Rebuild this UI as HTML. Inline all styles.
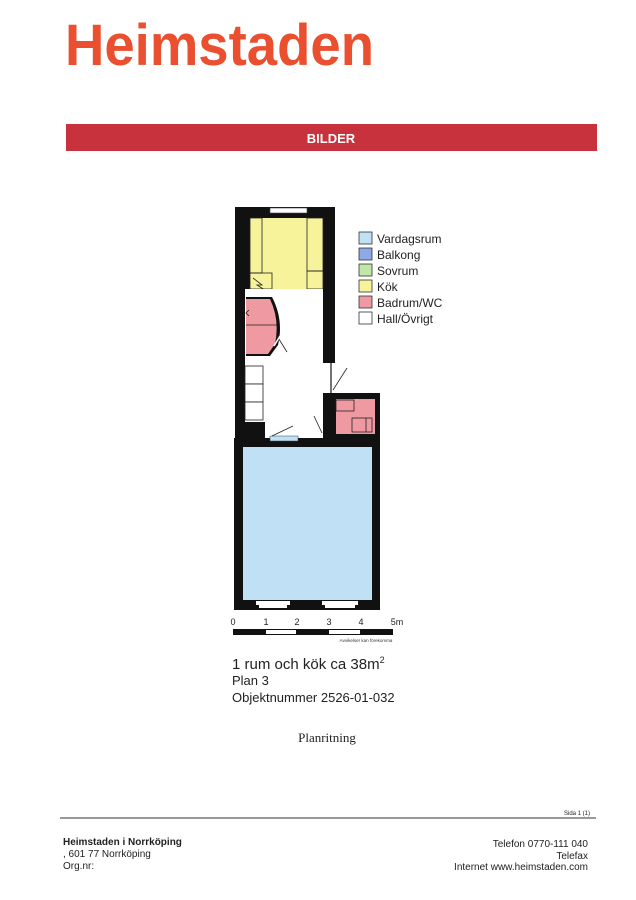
<!DOCTYPE html>
<html><head><meta charset="utf-8"><style>
html,body{margin:0;padding:0;background:#fff;}
svg{display:block;font-family:"Liberation Sans",sans-serif;}
</style></head><body>
<svg width="636" height="900" viewBox="0 0 636 900" xmlns="http://www.w3.org/2000/svg">
<rect width="636" height="900" fill="#fff"/>
<text x="65" y="65" font-size="58" font-weight="bold" fill="#ea4f30" textLength="309" lengthAdjust="spacingAndGlyphs">Heimstaden</text>
<rect x="66" y="124" width="531" height="27" fill="#c8323c"/>
<text x="331" y="143" font-size="13" font-weight="bold" fill="#fff" text-anchor="middle">BILDER</text>

<!-- floor plan walls -->
<rect x="235" y="207" width="100" height="231" fill="#111"/>
<rect x="323" y="393" width="57" height="45" fill="#111"/>
<rect x="234" y="438" width="146" height="172" fill="#111"/>
<!-- kitchen -->
<rect x="250" y="218" width="73" height="71" fill="#f7f39a"/>
<rect x="250" y="218" width="12" height="55" fill="none" stroke="#222" stroke-width="0.8"/>
<rect x="307" y="218" width="16" height="53" fill="none" stroke="#222" stroke-width="0.8"/>
<rect x="250" y="273" width="22" height="16" fill="none" stroke="#222" stroke-width="0.8"/>
<rect x="307" y="271" width="16" height="18" fill="none" stroke="#222" stroke-width="0.8"/>
<polyline points="253,278 262,285 257,285 268,292" fill="none" stroke="#222" stroke-width="0.8"/>
<!-- top window -->
<rect x="270" y="208" width="37" height="5" fill="#fff" stroke="#444" stroke-width="0.6"/>
<!-- hall -->
<rect x="245" y="289" width="78" height="133" fill="#fff"/>
<rect x="265" y="422" width="58" height="16" fill="#fff"/>
<rect x="323" y="363" width="12" height="30" fill="#fff"/>
<line x1="331" y1="363" x2="331" y2="393" stroke="#444" stroke-width="1.5"/>
<line x1="333" y1="390" x2="347" y2="368" stroke="#222" stroke-width="0.8"/>
<!-- cabinets -->
<rect x="245" y="366" width="18" height="18" fill="#fff" stroke="#222" stroke-width="0.8"/>
<rect x="245" y="384" width="18" height="18" fill="#fff" stroke="#222" stroke-width="0.8"/>
<rect x="245" y="402" width="18" height="18" fill="#fff" stroke="#222" stroke-width="0.8"/>
<!-- bathroom 1 -->
<path d="M246,297 L272,297 Q284,320 278,345 L270,356 L246,356 Z" fill="#111"/>
<path d="M246,299 L270,299 Q280,320 275,344 L268,354 L246,354 Z" fill="#ef9aa3"/>
<line x1="246" y1="325" x2="277" y2="325" stroke="#222" stroke-width="0.8"/>
<polyline points="249,310 246,313 249,316" fill="none" stroke="#222" stroke-width="0.8"/>
<line x1="277" y1="336" x2="287" y2="352" stroke="#222" stroke-width="0.8"/>
<line x1="274" y1="346" x2="280" y2="336" stroke="#fff" stroke-width="1.5"/>
<!-- bathroom 2 -->
<rect x="336" y="399" width="39" height="35" fill="#ef9aa3"/>
<rect x="323" y="406" width="13" height="28" fill="#111"/>
<rect x="336" y="400" width="18" height="11" fill="none" stroke="#222" stroke-width="0.8"/>
<rect x="352" y="418" width="20" height="14" fill="none" stroke="#222" stroke-width="0.8"/>
<line x1="366" y1="418" x2="366" y2="432" stroke="#222" stroke-width="0.8"/>
<line x1="322" y1="433" x2="314" y2="416" stroke="#222" stroke-width="0.8"/>
<!-- door to main -->
<rect x="270" y="436" width="28" height="5" fill="#bfe0f5" stroke="#444" stroke-width="0.5"/>
<line x1="272" y1="436" x2="293" y2="426" stroke="#222" stroke-width="0.8"/>
<!-- main room -->
<rect x="243" y="447" width="129" height="153" fill="#bfe0f5"/>
<rect x="256" y="601" width="34" height="4" fill="#fff"/>
<rect x="259" y="605" width="28" height="3" fill="#fff"/>
<rect x="322" y="601" width="36" height="4" fill="#fff"/>
<rect x="325" y="605" width="30" height="3" fill="#fff"/>
<!-- legend -->
<g font-size="12" fill="#222" stroke-width="0.8">
<rect x="359" y="232" width="13" height="12" fill="#bfe0f5" stroke="#333"/><text x="377" y="243">Vardagsrum</text>
<rect x="359" y="248" width="13" height="12" fill="#8fa9e6" stroke="#333"/><text x="377" y="259">Balkong</text>
<rect x="359" y="264" width="13" height="12" fill="#c2e6a8" stroke="#333"/><text x="377" y="275">Sovrum</text>
<rect x="359" y="280" width="13" height="12" fill="#f7f39a" stroke="#333"/><text x="377" y="291">Kök</text>
<rect x="359" y="296" width="13" height="12" fill="#ef9aa3" stroke="#333"/><text x="377" y="307">Badrum/WC</text>
<rect x="359" y="312" width="13" height="12" fill="#fff" stroke="#333"/><text x="377" y="323">Hall/Övrigt</text>
</g>
<!-- scale -->
<g font-size="9" fill="#222">
<text x="233" y="625" text-anchor="middle">0</text>
<text x="266" y="625" text-anchor="middle">1</text>
<text x="297" y="625" text-anchor="middle">2</text>
<text x="329" y="625" text-anchor="middle">3</text>
<text x="361" y="625" text-anchor="middle">4</text>
<text x="397" y="625" text-anchor="middle">5m</text>
</g>
<rect x="233" y="629" width="160" height="6" fill="#111"/>
<rect x="266" y="630" width="30" height="4" fill="#fff"/>
<rect x="329" y="630" width="31" height="4" fill="#fff"/>
<text x="366" y="642" font-size="4.5" fill="#333" text-anchor="middle">Avvikelser kan förekomma</text>

<text x="232" y="669" font-size="15" fill="#222">1 rum och kök ca 38m<tspan font-size="9" dy="-6">2</tspan></text>
<text x="232" y="685" font-size="13" fill="#222">Plan 3</text>
<text x="232" y="702" font-size="13" fill="#222">Objektnummer 2526-01-032</text>
<text x="327" y="742" font-size="13" fill="#222" font-family="Liberation Serif,serif" text-anchor="middle">Planritning</text>

<text x="590" y="815" font-size="6" fill="#222" text-anchor="end">Sida 1 (1)</text>
<line x1="60" y1="818" x2="596" y2="818" stroke="#333" stroke-width="1"/>
<g font-size="10" fill="#222">
<text x="63" y="845" font-weight="bold">Heimstaden i Norrköping</text>
<text x="63" y="857">, 601 77  Norrköping</text>
<text x="63" y="869">Org.nr:</text>
<text x="588" y="847" text-anchor="end">Telefon 0770-111 040</text>
<text x="588" y="859" text-anchor="end">Telefax</text>
<text x="588" y="870" text-anchor="end">Internet www.heimstaden.com</text>
</g>
</svg>
</body></html>
